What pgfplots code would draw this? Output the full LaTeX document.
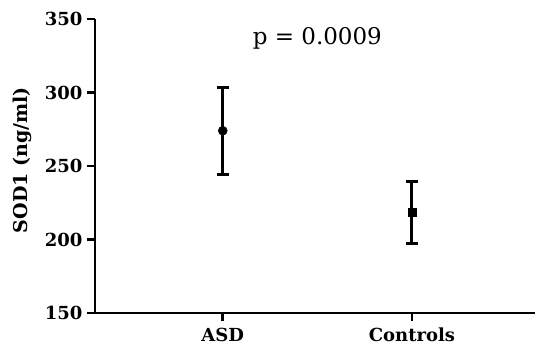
\documentclass[border=0pt]{standalone}
\usepackage{fontspec}
\setmainfont{DejaVu Serif}
\usepackage{pgfplots}
\pgfplotsset{compat=1.18}
\begin{document}
\begin{tikzpicture}
\begin{axis}[
  scale only axis,
  width=440pt, height=294pt,
  xmin=0.325, xmax=2.65,
  ymin=150, ymax=350,
  axis lines=left,
  axis line style={line width=2.6pt, -},
  every tick/.style={line width=2.6pt, black},
  major tick length=8pt,
  tick align=outside,
  xtick={1,2},
  xticklabels={ASD,Controls},
  ytick={150,200,250,300,350},
  /pgf/number format/assume math mode=true,
  tick label style={font=\fontsize{18}{21}\selectfont\bfseries},
  yticklabel style={xshift=-1pt},
  xticklabel style={yshift=-4pt, text height=13pt, text depth=0pt},
  ylabel={SOD1 (ng/ml)},
  ylabel style={font=\fontsize{19}{22}\selectfont\bfseries, at={(axis description cs:-0.165,0.52)}, anchor=center},
  clip=false,
]
\addplot[black, only marks, mark=*, mark size=4.5pt, line width=3pt,
  mark options={line width=0.5pt},
  error bars/.cd, y dir=both, y explicit,
  error bar style={line width=3pt, black},
  error mark options={rotate=90, mark size=6pt, line width=3pt, black}]
  coordinates {(1,274) +- (0,29.5)};
\addplot[black, only marks, mark=square*, mark size=4.2pt, line width=3pt,
  mark options={line width=0.5pt},
  error bars/.cd, y dir=both, y explicit,
  error bar style={line width=3pt, black},
  error mark options={rotate=90, mark size=6pt, line width=3pt, black}]
  coordinates {(2,218.5) +- (0,21)};
\node[font=\fontsize{23}{26}\selectfont, anchor=center] at (axis cs:1.5,337) {p = 0.0009};
\end{axis}
\pgfresetboundingbox
\path[use as bounding box] (-95pt,-39pt) rectangle (440pt,313pt);
\end{tikzpicture}
\end{document}
